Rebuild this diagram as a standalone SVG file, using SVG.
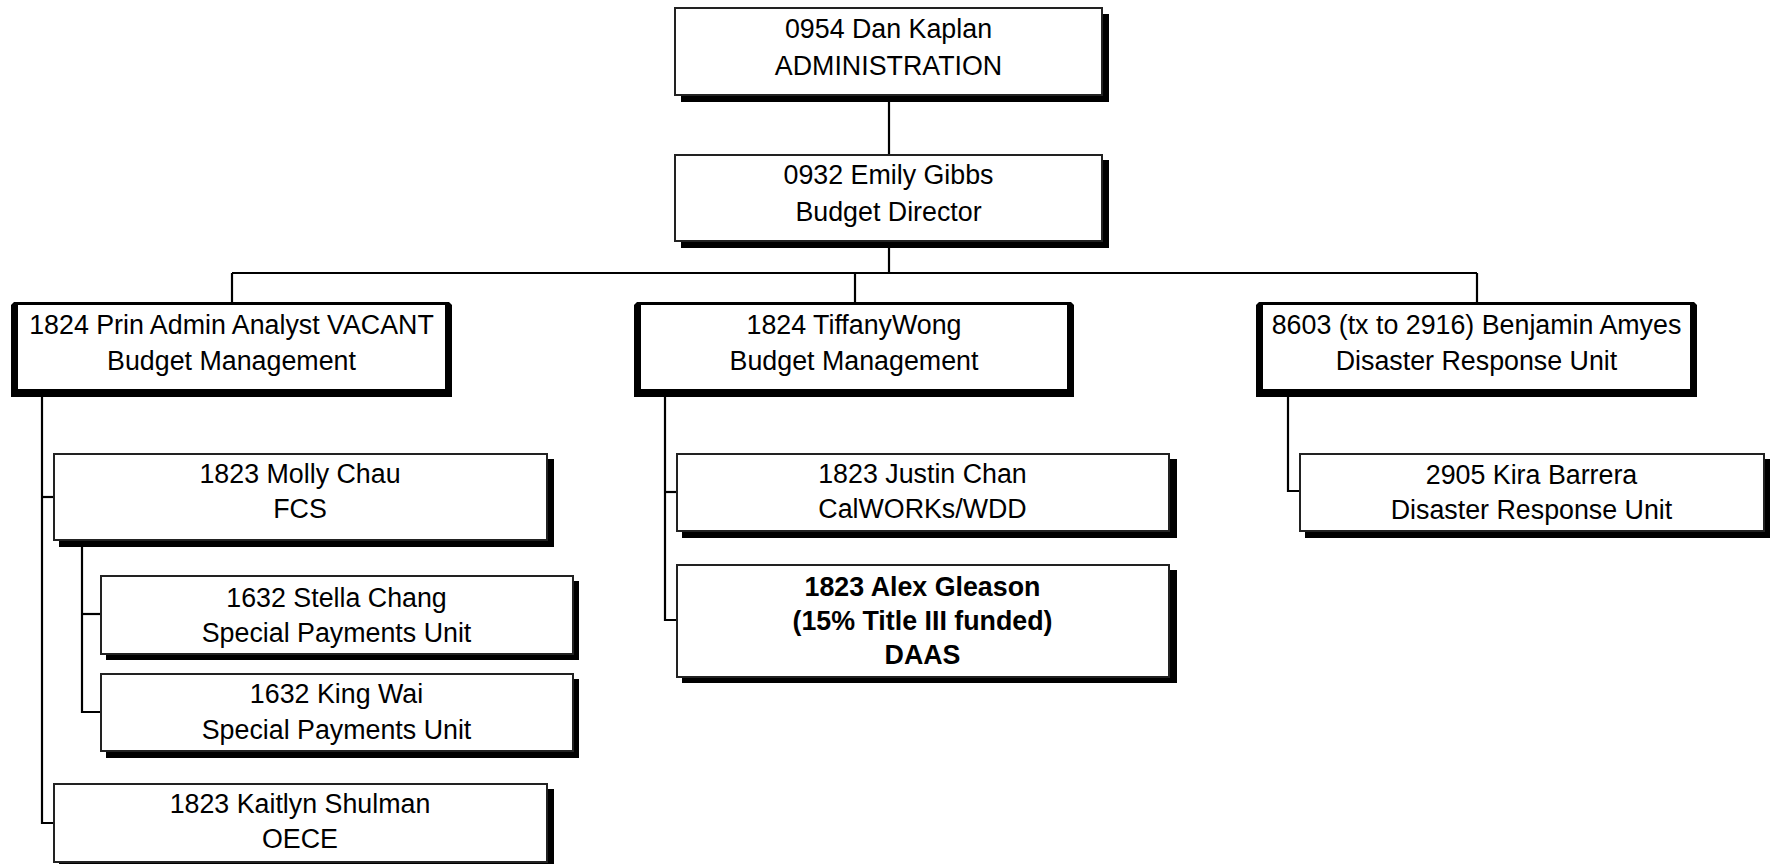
<svg xmlns="http://www.w3.org/2000/svg" width="1771" height="864" viewBox="0 0 1771 864">
<style>
.box{fill:#fff;stroke:#222;stroke-width:2}
.shadow{fill:#000}
.thick{fill:#000}
.inner{fill:#fff}
.conn{stroke:#000;stroke-width:2.2;fill:none}
text{font-family:"Liberation Sans",Arial,Helvetica,sans-serif;font-size:26.8px;text-anchor:middle;fill:#000}
.b{font-weight:bold}
</style>
<rect width="1771" height="864" fill="#fff"/>
<g id="connectors">
<path class="conn" d="M889 96V154"/>
<path class="conn" d="M889 248V273"/>
<path class="conn" d="M232 273H1477"/>
<path class="conn" d="M232 273V303"/>
<path class="conn" d="M855 273V303"/>
<path class="conn" d="M1477 273V303"/>
<path class="conn" d="M42 397V823H53"/>
<path class="conn" d="M42 497H53"/>
<path class="conn" d="M82 547V712H100"/>
<path class="conn" d="M82 614H100"/>
<path class="conn" d="M665 397V620H676"/>
<path class="conn" d="M665 492H676"/>
<path class="conn" d="M1288 397V491H1299"/>
</g>
<g id="n-kaplan">
<rect class="shadow" x="681" y="14" width="428" height="88"/>
<rect class="box" x="675" y="8" width="427" height="87"/>
<text x="888.5" y="38">0954 Dan Kaplan</text>
<text x="888.5" y="75">ADMINISTRATION</text>
</g>
<g id="n-gibbs">
<rect class="shadow" x="681" y="160" width="428" height="88"/>
<rect class="box" x="675" y="155" width="427" height="86"/>
<text x="888.5" y="184">0932 Emily Gibbs</text>
<text x="888.5" y="221">Budget Director</text>
</g>
<g id="n-vacant">
<path class="thick" d="M14 302H449L452 305V397H11V305Z"/>
<rect class="inner" x="18" y="305" width="427" height="84"/>
<text x="231.5" y="334">1824 Prin Admin Analyst VACANT</text>
<text x="231.5" y="370">Budget Management</text>
</g>
<g id="n-wong">
<path class="thick" d="M637 302H1071L1074 305V397H634V305Z"/>
<rect class="inner" x="641" y="305" width="426" height="84"/>
<text x="854" y="334">1824 TiffanyWong</text>
<text x="854" y="370">Budget Management</text>
</g>
<g id="n-amyes">
<path class="thick" d="M1259 302H1694L1697 305V397H1256V305Z"/>
<rect class="inner" x="1263" y="305" width="427" height="84"/>
<text x="1476.5" y="334">8603 (tx to 2916) Benjamin Amyes</text>
<text x="1476.5" y="370">Disaster Response Unit</text>
</g>
<g id="n-chau">
<rect class="shadow" x="59" y="459" width="495" height="88"/>
<rect class="box" x="54" y="454" width="493" height="86"/>
<text x="300" y="483">1823 Molly Chau</text>
<text x="300" y="518">FCS</text>
</g>
<g id="n-chang">
<rect class="shadow" x="106" y="581" width="473" height="79"/>
<rect class="box" x="101" y="576" width="472" height="78"/>
<text x="336.5" y="607">1632 Stella Chang</text>
<text x="336.5" y="642">Special Payments Unit</text>
</g>
<g id="n-wai">
<rect class="shadow" x="106" y="679" width="473" height="79"/>
<rect class="box" x="101" y="674" width="472" height="77"/>
<text x="336.5" y="703">1632 King Wai</text>
<text x="336.5" y="739">Special Payments Unit</text>
</g>
<g id="n-shulman">
<rect class="shadow" x="59" y="789" width="495" height="88"/>
<rect class="box" x="54" y="784" width="493" height="78"/>
<text x="300" y="813">1823 Kaitlyn Shulman</text>
<text x="300" y="848">OECE</text>
</g>
<g id="n-chan">
<rect class="shadow" x="682" y="459" width="495" height="79"/>
<rect class="box" x="677" y="454" width="492" height="77"/>
<text x="922.5" y="483">1823 Justin Chan</text>
<text x="922.5" y="518">CalWORKs/WDD</text>
</g>
<g id="n-gleason">
<rect class="shadow" x="682" y="570" width="495" height="113"/>
<rect class="box" x="677" y="565" width="492" height="112"/>
<text class="b" x="922.5" y="596">1823 Alex Gleason</text>
<text class="b" x="922.5" y="630">(15% Title III funded)</text>
<text class="b" x="922.5" y="664">DAAS</text>
</g>
<g id="n-barrera">
<rect class="shadow" x="1305" y="459" width="465" height="79"/>
<rect class="box" x="1300" y="454" width="464" height="77"/>
<text x="1531.5" y="484">2905 Kira Barrera</text>
<text x="1531.5" y="519">Disaster Response Unit</text>
</g>
</svg>
